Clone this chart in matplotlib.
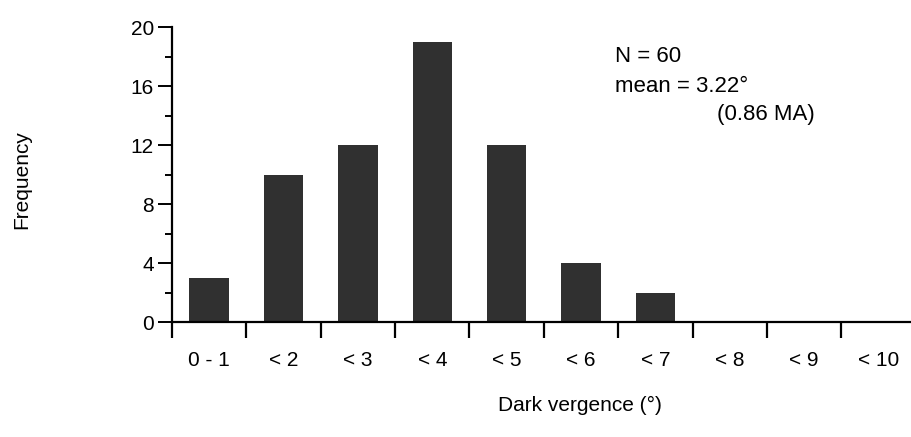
import matplotlib.pyplot as plt
import numpy as np

plt.rcParams['font.family'] = ['Liberation Sans', 'DejaVu Sans']

categories = ["0 - 1", "< 2", "< 3", "< 4", "< 5", "< 6", "< 7", "< 8", "< 9", "< 10"]
frequency = [3, 10, 12, 19, 12, 4, 2, 0, 0, 0]
y_ticks = [0, 4, 8, 12, 16, 20]

fig = plt.figure(figsize=(9.12, 4.37), dpi=100)
ax = fig.add_axes([0.1886, 0.263, 0.8114, 0.675])

x = np.arange(len(categories))
ax.bar(x, frequency, width=0.53, color='#303030', edgecolor='none')

ax.set_xlim(-0.5, 9.45)
ax.set_ylim(0, 20)

# boundary ticks between categories, labels centred under bars
ax.set_xticks(x - 0.5)
ax.set_xticklabels([])
ax.set_xticks(x, minor=True)
ax.set_xticklabels(categories, minor=True, fontsize=15)
ax.tick_params(axis='x', which='major', direction='out', length=11.5, width=1.6)
ax.tick_params(axis='x', which='minor', length=0, pad=21)

ax.set_yticks(y_ticks)
ax.set_yticks(np.arange(2, 20, 4), minor=True)
ax.tick_params(axis='y', which='major', direction='out', length=10, width=1.4, labelsize=15, pad=3)
ax.tick_params(axis='y', which='minor', direction='out', length=5, width=1.4)

for side in ['top', 'right']:
    ax.spines[side].set_visible(False)
for side in ['left', 'bottom']:
    ax.spines[side].set_linewidth(1.6)

fig.text(22 / 912, 1 - 180 / 437, "Frequency", rotation=90, fontsize=15,
         ha='center', va='center')
fig.text(580 / 912, 1 - 405 / 437, "Dark vergence (°)", fontsize=15,
         ha='center', va='center')

fig.text(615 / 912, 1 - 56 / 437, "N = 60", fontsize=16, ha='left', va='center')
fig.text(615 / 912, 1 - 86 / 437, "mean = 3.22°", fontsize=16, ha='left', va='center')
fig.text(717 / 912, 1 - 115 / 437, "(0.86 MA)", fontsize=16, ha='left', va='center')

fig.savefig('out.png', dpi=100)
